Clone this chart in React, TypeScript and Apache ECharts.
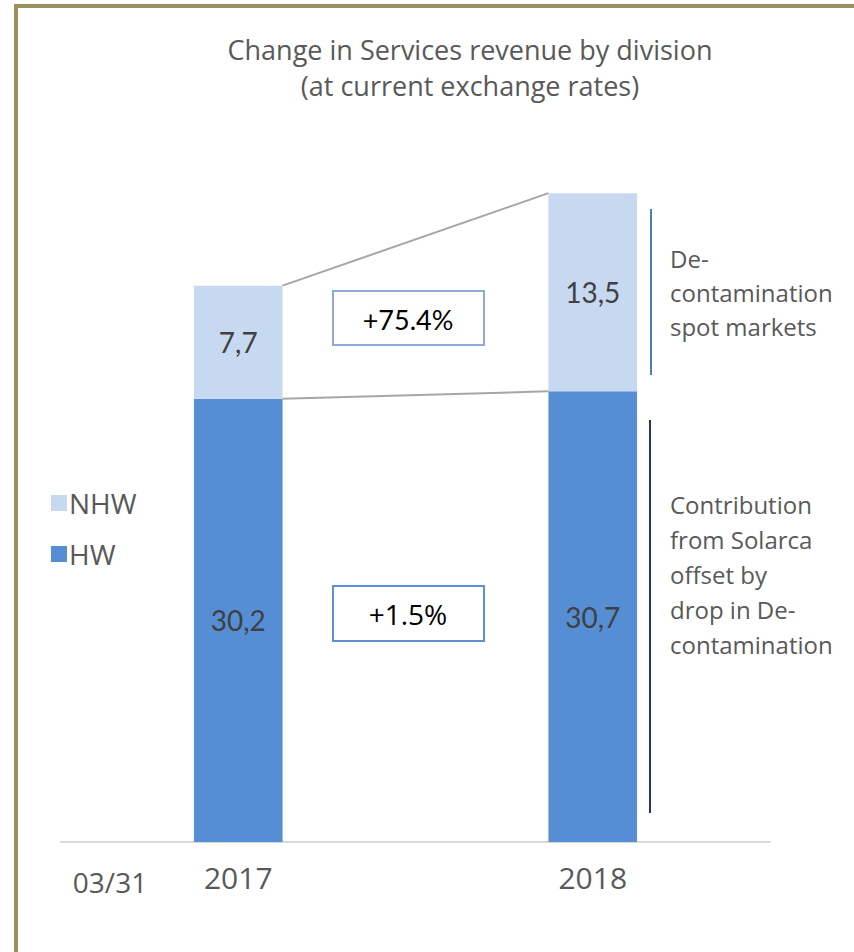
import React, { useEffect, useRef } from "react";
import * as echarts from "echarts";

const categories = ["2017", "2018"];
const hwValues = [30.2, 30.7];
const nhwValues = [7.7, 13.5];
const changeLabels = ["+75.4%", "+1.5%"];
const periodLabel = "03/31";
const titleLines = ["Change in Services revenue by division", "(at current exchange rates)"];
const upperNote = "De-\ncontamination\nspot markets";
const lowerNote = "Contribution\nfrom Solarca\noffset by\ndrop in De-\ncontamination";

const FONT = "'Open Sans', Lato, sans-serif";
const GREY = "#595959";

export default function App() {
  const ref = useRef<HTMLDivElement>(null);
  useEffect(() => {
    if (!ref.current) return;
    const chart = echarts.init(ref.current, null, { renderer: "svg" });
    const fmt = (p: any) => String(p.value).replace(".", ",");
    const connectorData = [
      [0, hwValues[0] + nhwValues[0], 1, hwValues[1] + nhwValues[1]],
      [0, hwValues[0], 1, hwValues[1]],
    ];
    const labelStyle = {
      show: true,
      position: "inside",
      formatter: fmt,
      fontFamily: "Lato, sans-serif",
      fontSize: 28,
      color: "#404040",
    };
    chart.setOption({
      animation: false,
      title: {
        text: titleLines.join("\n"),
        left: 465,
        top: 26,
        textAlign: "center",
        textStyle: { fontFamily: FONT, fontSize: 27, fontWeight: "normal", color: GREY, lineHeight: 36 },
      },
      legend: {
        data: ["NHW", "HW"],
        orient: "vertical",
        left: 46,
        top: 484,
        itemWidth: 16,
        itemHeight: 16,
        itemGap: 23,
        icon: "rect",
        textStyle: { fontFamily: FONT, fontSize: 28, color: GREY, padding: [0, 0, 0, -3] },
      },
      grid: { left: 61, right: 84, top: 108, bottom: 110, containLabel: false },
      xAxis: {
        type: "category",
        data: categories,
        axisLine: { lineStyle: { color: "#d9d9d9", width: 2 } },
        axisTick: { show: false },
        axisLabel: { fontFamily: FONT, fontSize: 30, color: GREY, margin: 20 },
      },
      yAxis: {
        type: "value",
        min: 0,
        max: 50,
        show: false,
        splitLine: { show: false },
      },
      series: [
        {
          name: "HW",
          type: "bar",
          stack: "total",
          data: hwValues,
          barWidth: "25%",
          itemStyle: { color: "#558ed5" },
          label: labelStyle,
        },
        {
          name: "NHW",
          type: "bar",
          stack: "total",
          data: nhwValues,
          barWidth: "25%",
          itemStyle: { color: "#c6d9f1" },
          label: labelStyle,
        },
        {
          type: "custom",
          data: connectorData,
          silent: true,
          z: 5,
          renderItem: (params: any, api: any) => {
            const a = api.coord([api.value(0), api.value(1)]);
            const b = api.coord([api.value(2), api.value(3)]);
            const half = (api.size([1, 0])[0] * 0.25) / 2;
            return {
              type: "line",
              shape: { x1: a[0] + half, y1: a[1], x2: b[0] - half, y2: b[1] },
              style: { stroke: "#a6a6a6", lineWidth: 2 },
            };
          },
        },
      ],
      graphic: [
        { type: "rect", shape: { x: 14, y: 4, width: 4, height: 948 }, style: { fill: "#9a8f5e" } },
        { type: "rect", shape: { x: 14, y: 4, width: 840, height: 4 }, style: { fill: "#9a8f5e" } },
        {
          type: "rect",
          shape: { x: 333, y: 291, width: 151, height: 54 },
          style: { fill: "#fff", stroke: "#8eaadb", lineWidth: 2 },
        },
        {
          type: "text",
          x: 408,
          y: 319,
          style: { text: changeLabels[0], fontFamily: "Lato, sans-serif", fontSize: 27, fill: "#000", align: "center", verticalAlign: "middle" },
        },
        {
          type: "rect",
          shape: { x: 333, y: 586, width: 151, height: 55 },
          style: { fill: "#fff", stroke: "#5b8fd6", lineWidth: 2 },
        },
        {
          type: "text",
          x: 408,
          y: 614,
          style: { text: changeLabels[1], fontFamily: FONT, fontSize: 28, fill: "#000", align: "center", verticalAlign: "middle" },
        },
        {
          type: "line",
          shape: { x1: 651, y1: 209, x2: 651, y2: 375 },
          style: { stroke: "#4a7ebf", lineWidth: 2 },
        },
        {
          type: "line",
          shape: { x1: 650, y1: 420, x2: 650, y2: 813 },
          style: { stroke: "#1f3864", lineWidth: 2 },
        },
        {
          type: "text",
          x: 670,
          y: 241,
          style: { text: upperNote, fontFamily: FONT, fontSize: 24, lineHeight: 34, fill: GREY },
        },
        {
          type: "text",
          x: 670,
          y: 487,
          style: { text: lowerNote, fontFamily: FONT, fontSize: 24, lineHeight: 35, fill: GREY },
        },
        {
          type: "text",
          x: 110,
          y: 882,
          style: { text: periodLabel, fontFamily: FONT, fontSize: 28, fill: GREY, align: "center", verticalAlign: "middle" },
        },
      ],
    });
    return () => chart.dispose();
  }, []);
  return (
    <div
      ref={ref}
      style={{ position: "fixed", left: 0, top: 0, width: 854, height: 952, background: "#fff" }}
    />
  );
}
